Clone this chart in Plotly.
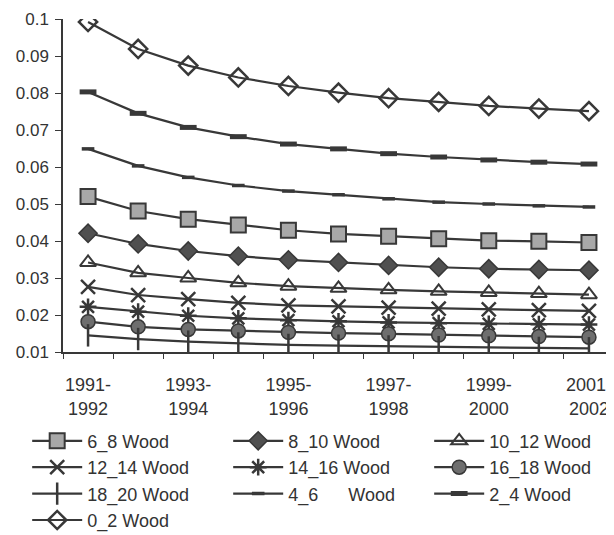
import plotly.graph_objects as go

periods = ["1991-1992", "1992-1993", "1993-1994", "1994-1995", "1995-1996", "1996-1997",
           "1997-1998", "1998-1999", "1999-2000", "2000-2001", "2001-2002"]
tick_text = ["1991-<br>1992", "", "1993-<br>1994", "", "1995-<br>1996", "",
             "1997-<br>1998", "", "1999-<br>2000", "", "2001-<br>2002"]

wood_6_8 = [0.0520, 0.0481, 0.0459, 0.0443, 0.0429, 0.0419, 0.0413, 0.0406, 0.0401, 0.0399, 0.0396]
wood_8_10 = [0.0421, 0.0392, 0.0373, 0.0359, 0.0349, 0.0342, 0.0334, 0.0329, 0.0325, 0.0323, 0.0321]
wood_10_12 = [0.0342, 0.0314, 0.0300, 0.0287, 0.0278, 0.0272, 0.0268, 0.0264, 0.0261, 0.0258, 0.0255]
wood_12_14 = [0.0276, 0.0254, 0.0243, 0.0233, 0.0226, 0.0223, 0.0220, 0.0217, 0.0215, 0.0213, 0.0211]
wood_14_16 = [0.0222, 0.0209, 0.0198, 0.0191, 0.0186, 0.0183, 0.0180, 0.0178, 0.0176, 0.0175, 0.0174]
wood_16_18 = [0.0182, 0.0168, 0.0161, 0.0157, 0.0153, 0.0151, 0.0149, 0.0146, 0.0144, 0.0142, 0.0140]
wood_18_20 = [0.0145, 0.0135, 0.0128, 0.0123, 0.0119, 0.0117, 0.0115, 0.0113, 0.0112, 0.0111, 0.0110]
wood_4_6 = [0.0649, 0.0603, 0.0572, 0.0550, 0.0535, 0.0525, 0.0514, 0.0505, 0.0500, 0.0495, 0.0492]
wood_2_4 = [0.0803, 0.0745, 0.0707, 0.0682, 0.0662, 0.0649, 0.0636, 0.0627, 0.0619, 0.0613, 0.0608]
wood_0_2 = [0.0992, 0.0919, 0.0874, 0.0842, 0.0819, 0.0801, 0.0786, 0.0776, 0.0765, 0.0758, 0.0751]

LINE = "#383838"

series = [
    ("6_8 Wood", wood_6_8, dict(symbol="square", size=15, color="#a8a8a8", line=dict(color=LINE, width=2))),
    ("8_10 Wood", wood_8_10, dict(symbol="diamond", size=14, color="#505050", line=dict(color=LINE, width=1.5))),
    ("10_12 Wood", wood_10_12, dict(symbol="triangle-up-open", size=14, color=LINE, line=dict(color=LINE, width=2))),
    ("12_14 Wood", wood_12_14, dict(symbol="x-thin-open", size=14, color=LINE, line=dict(color=LINE, width=2.5))),
    ("14_16 Wood", wood_14_16, dict(symbol="asterisk-open", size=14, color=LINE, line=dict(color=LINE, width=2.5))),
    ("16_18 Wood", wood_16_18, dict(symbol="circle", size=14, color="#6e6e6e", line=dict(color=LINE, width=1.5))),
    ("18_20 Wood", wood_18_20, dict(symbol="line-ns-open", size=16, color=LINE, line=dict(color=LINE, width=2.5))),
    ("4_6\u00a0\u00a0\u00a0\u00a0\u00a0\u00a0Wood", wood_4_6, dict(symbol="line-ew-open", size=9, color=LINE, line=dict(color=LINE, width=3.5))),
    ("2_4 Wood", wood_2_4, dict(symbol="line-ew-open", size=12, color=LINE, line=dict(color=LINE, width=5))),
    ("0_2 Wood", wood_0_2, dict(symbol="diamond-open", size=14, color=LINE, line=dict(color=LINE, width=2.5))),
]

fig = go.Figure()
for name, vals, marker in series:
    fig.add_trace(go.Scatter(
        x=periods, y=vals, name=name, mode="lines+markers",
        line=dict(color=LINE, width=2.2),
        marker=marker,
    ))

fig.update_layout(
    width=606, height=527,
    margin=dict(l=55, r=0, t=11, b=183, autoexpand=False),
    paper_bgcolor="white", plot_bgcolor="white",
    font=dict(family="Liberation Sans, Arial, sans-serif", size=17, color="#333333"),
    legend=dict(
        orientation="h", x=-0.065, xanchor="left", y=-0.212, yanchor="top",
        entrywidth=136, entrywidthmode="pixels",
        font=dict(size=18, color="#333333"), traceorder="normal",
        itemwidth=50, tracegroupgap=0,
    ),
    showlegend=True,
)
fig.update_xaxes(
    type="category", tickmode="array", tickvals=periods, ticktext=tick_text,
    tickson="boundaries", ticks="outside", ticklen=5, tickcolor=LINE, tickangle=0,
    showline=True, linecolor=LINE, linewidth=1.5, showgrid=False, automargin=False,
    range=[-0.5, 10.5], tickfont=dict(size=18), ticklabelstandoff=16,
)
fig.update_yaxes(
    range=[0.01, 0.1], dtick=0.01, tick0=0.01, ticks="outside", ticklen=6, tickcolor=LINE,
    showline=True, linecolor=LINE, linewidth=1.5, showgrid=False, zeroline=False,
    tickfont=dict(size=17), automargin=False, ticklabelstandoff=3,
)

fig.write_html("out.html")
